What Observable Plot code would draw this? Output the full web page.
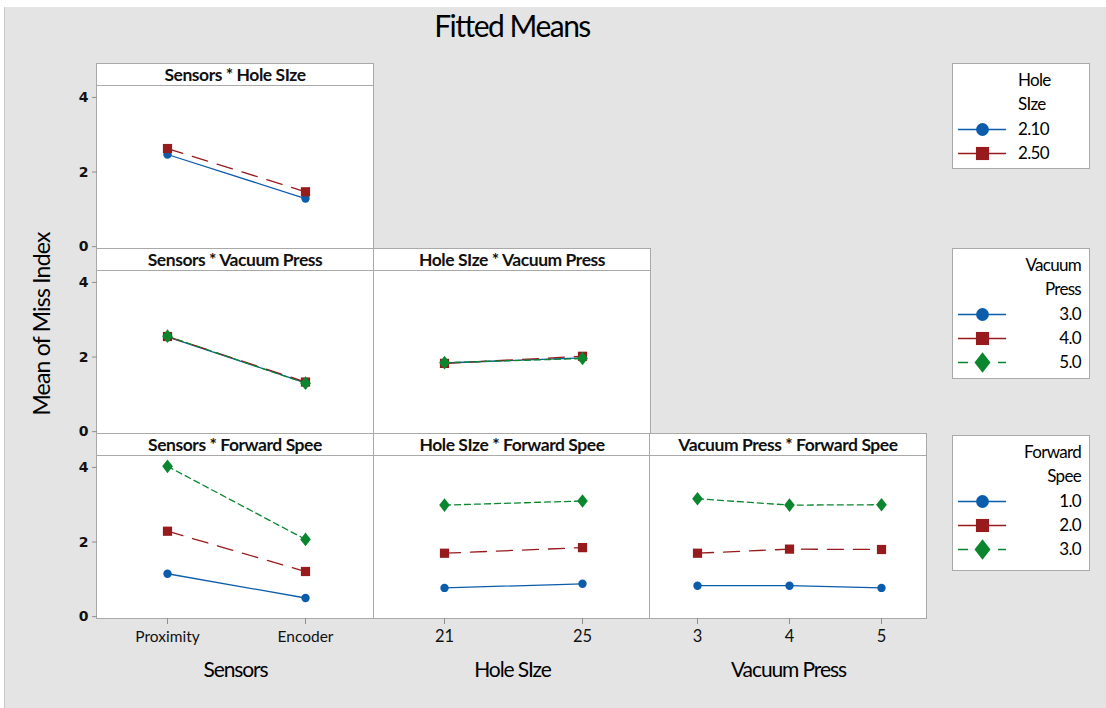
<!DOCTYPE html>
<html>
<head>
<meta charset="utf-8">
<script src="https://cdn.jsdelivr.net/npm/d3@7"></script>
<script src="https://cdn.jsdelivr.net/npm/@observablehq/plot@0.6"></script>
<style>
  html, body { margin: 0; padding: 0; background: #ffffff; }
  #root { position: relative; width: 1106px; height: 708px; overflow: hidden; font-family: Lato, "DejaVu Sans", sans-serif; color: #000; }
  #bg { position: absolute; left: 4px; top: 7px; right: 0; bottom: 0; background: #e4e4e4; border-left: 1px solid #c8c8c8; }
  .panel { position: absolute; box-sizing: border-box; background: #fff; border: 1px solid #a9a9a9; }
  .hdr { position: absolute; left: 0; right: 0; top: 0; height: 22px; box-sizing: border-box; border-bottom: 1px solid #a9a9a9;
         text-align: center; font-size: 17.5px; font-weight: bold; line-height: 21px; letter-spacing: -0.45px; white-space: nowrap; color: #111; }
  .abs { position: absolute; white-space: nowrap; }
  .plotbox { position: absolute; }
  .plotbox svg { overflow: visible; }
  .legend { position: absolute; box-sizing: border-box; background: #fff; border: 1px solid #a9a9a9; }
  .ltxt { position: absolute; font-size: 17px; letter-spacing: -0.7px; line-height: 20px; white-space: nowrap; }
</style>
</head>
<body>
<div id="root"><div id="bg"></div></div>
<script>
// ---------------- data ----------------
const chartTitle = "Fitted Means";
const yAxisTitle = "Mean of Miss Index";
const yTicks = [0, 2, 4];

const sensorsLevels = ["Proximity", "Encoder"];
const holeSizeLevels = ["21", "25"];
const vacuumLevels = ["3", "4", "5"];

const factorNames = ["Sensors", "Hole SIze", "Vacuum Press", "Forward Spee"];

const holeSizeSeries = ["2.10", "2.50"];
const vacuumSeries = ["3.0", "4.0", "5.0"];
const forwardSeries = ["1.0", "2.0", "3.0"];

// rows = series level, columns = x level
const sensorsByHoleSize = [[2.47, 1.29], [2.63, 1.47]];
const sensorsByVacuum   = [[2.54, 1.31], [2.55, 1.33], [2.56, 1.30]];
const holeSizeByVacuum  = [[1.84, 1.98], [1.83, 2.02], [1.85, 1.96]];
const sensorsByForward  = [[1.15, 0.50], [2.29, 1.21], [4.03, 2.07]];
const holeSizeByForward = [[0.77, 0.88], [1.70, 1.85], [2.99, 3.10]];
const vacuumByForward   = [[0.83, 0.83, 0.77], [1.70, 1.81, 1.80], [3.16, 2.99, 3.00]];

// ---------------- styles ----------------
function diamondSymbol(aspect) {
  return {
    draw(ctx, size) {
      const w = Math.sqrt(2 * size * aspect);
      const h = w / aspect;
      ctx.moveTo(0, -h / 2);
      ctx.lineTo(w / 2, 0);
      ctx.lineTo(0, h / 2);
      ctx.lineTo(-w / 2, 0);
      ctx.closePath();
    }
  };
}
const COLORS = ["#0b5dab", "#971a1d", "#0a862f"];
const DASHES = [null, "16,10", "6,4"];
const LEG_DASHES = [null, "18,12,18", "10,30,8"];
const SYMBOLS = ["circle", "square", diamondSymbol(0.78)];
const RADII = [4.2, 5.2, 4.8];
const LEG_RADII = [6.4, 7.4, 7.2];

// ---------------- layout ----------------
const root = document.getElementById("root");
const COLX = [96, 373, 649];
const COLW = 277;
const ROWY = [63, 248, 433];
const HDR = 22;
const PLOTH = 163;

function el(cls, css, text) {
  const d = document.createElement("div");
  d.className = cls;
  Object.assign(d.style, css);
  if (text != null) d.textContent = text;
  root.appendChild(d);
  return d;
}

// title
el("abs", {left: "0px", width: "1024px", top: "7px", textAlign: "center", fontSize: "30px", letterSpacing: "-1.5px", lineHeight: "36px"}, chartTitle);

// y-axis title
el("abs", {left: "41px", top: "324px", fontSize: "23px", letterSpacing: "-0.8px", transform: "translate(-50%,-50%) rotate(-90deg)"}, yAxisTitle);

const panels = [
  {r: 0, c: 0, levels: sensorsLevels, series: holeSizeSeries, values: sensorsByHoleSize, title: "Sensors * Hole SIze"},
  {r: 1, c: 0, levels: sensorsLevels, series: vacuumSeries, values: sensorsByVacuum, title: "Sensors * Vacuum Press"},
  {r: 1, c: 1, levels: holeSizeLevels, series: vacuumSeries, values: holeSizeByVacuum, title: "Hole SIze * Vacuum Press"},
  {r: 2, c: 0, levels: sensorsLevels, series: forwardSeries, values: sensorsByForward, title: "Sensors * Forward Spee"},
  {r: 2, c: 1, levels: holeSizeLevels, series: forwardSeries, values: holeSizeByForward, title: "Hole SIze * Forward Spee"},
  {r: 2, c: 2, levels: vacuumLevels, series: forwardSeries, values: vacuumByForward, title: "Vacuum Press * Forward Spee"}
];

// panel boxes
for (const p of panels) {
  const box = el("panel", {left: COLX[p.c] + "px", top: ROWY[p.r] + "px", width: (COLW + 1) + "px", height: (HDR + PLOTH + 1) + "px"});
  const h = document.createElement("div");
  h.className = "hdr";
  h.textContent = p.title;
  box.appendChild(h);
}

// plots
for (const p of panels) {
  const ml = p.c === 0 ? 40 : 0;
  const mb = p.r === 2 ? 34 : 0;
  const data = p.series.flatMap((s, i) => p.levels.map((lv, j) => ({level: lv, value: p.values[i][j], series: s, i})));
  const marks = [];
  p.series.forEach((s, i) => {
    marks.push(Plot.line(data.filter(d => d.i === i), {
      x: "level", y: "value", stroke: COLORS[i], strokeWidth: 1.3,
      strokeDasharray: DASHES[i] ?? undefined
    }));
  });
  p.series.forEach((s, i) => {
    marks.push(Plot.dot(data.filter(d => d.i === i), {
      x: "level", y: "value", symbol: SYMBOLS[i], fill: COLORS[i], stroke: "none", r: RADII[i]
    }));
  });
  if (p.c === 0) {
    marks.push(Plot.axisY(yTicks, {
      tickSize: 5, tickPadding: 4, stroke: "#8f8f8f", fill: "#111",
      fontSize: 14, fontWeight: "bold", fontFamily: "DejaVu Sans", label: null
    }));
  }
  if (p.r === 2) {
    marks.push(Plot.axisX({
      tickSize: 6, tickPadding: 6, stroke: "#8f8f8f", fill: "#111",
      fontSize: p.c === 0 ? 15.5 : 16.5, letterSpacing: "-0.8px", label: null
    }));
  }
  const chart = Plot.plot({
    width: COLW + ml,
    height: PLOTH + mb,
    marginLeft: ml, marginRight: 0, marginTop: 0, marginBottom: mb,
    style: {background: "transparent", overflow: "visible", fontFamily: "Lato, sans-serif"},
    x: {type: "point", domain: p.levels, padding: 0.5, axis: null},
    y: {domain: [-0.05, 4.32], axis: null},
    marks
  });
  const wrap = el("plotbox", {left: (COLX[p.c] - ml + 1) + "px", top: (ROWY[p.r] + HDR) + "px"});
  wrap.appendChild(chart);
}

// x-axis titles
[0, 1, 2].forEach(c => {
  el("abs", {left: (COLX[c] + COLW / 2 + 1) + "px", top: "668px", transform: "translate(-50%,-50%)",
             fontSize: "21px", letterSpacing: "-1.1px"}, factorNames[c]);
});

// legends
const legends = [
  {top: 63, height: 106, titleLines: ["Hole", "SIze"], series: holeSizeSeries, align: "left"},
  {top: 248, height: 131, titleLines: ["Vacuum", "Press"], series: vacuumSeries, align: "right"},
  {top: 435, height: 136, titleLines: ["Forward", "Spee"], series: forwardSeries, align: "right"}
];
for (const lg of legends) {
  const box = el("legend", {left: "952px", top: lg.top + "px", width: "138px", height: lg.height + "px"});
  const addText = (txt, yCenter) => {
    const t = document.createElement("div");
    t.className = "ltxt";
    t.textContent = txt;
    t.style.top = (yCenter - 10) + "px";
    if (lg.align === "left") t.style.left = "65px"; else t.style.right = "8px";
    box.appendChild(t);
  };
  lg.titleLines.forEach((line, k) => addText(line, 16 + k * 24));
  lg.series.forEach((s, i) => {
    const yc = 65 + i * 24;
    addText(s, yc);
    const sw = Plot.plot({
      width: 48, height: 20, margin: 0,
      style: {background: "transparent", overflow: "visible"},
      y: {domain: [-1, 1], axis: null},
      marks: [
        Plot.ruleY([0], {stroke: COLORS[i], strokeWidth: 1.3, strokeDasharray: LEG_DASHES[i] ?? undefined}),
        Plot.dot([0], {y: d => d, symbol: SYMBOLS[i], fill: COLORS[i], stroke: "none", r: LEG_RADII[i]})
      ]
    });
    const w = document.createElement("div");
    w.style.position = "absolute";
    w.style.left = "5px";
    w.style.top = (yc - 10) + "px";
    w.appendChild(sw);
    box.appendChild(w);
  });
}
</script>
</body>
</html>
